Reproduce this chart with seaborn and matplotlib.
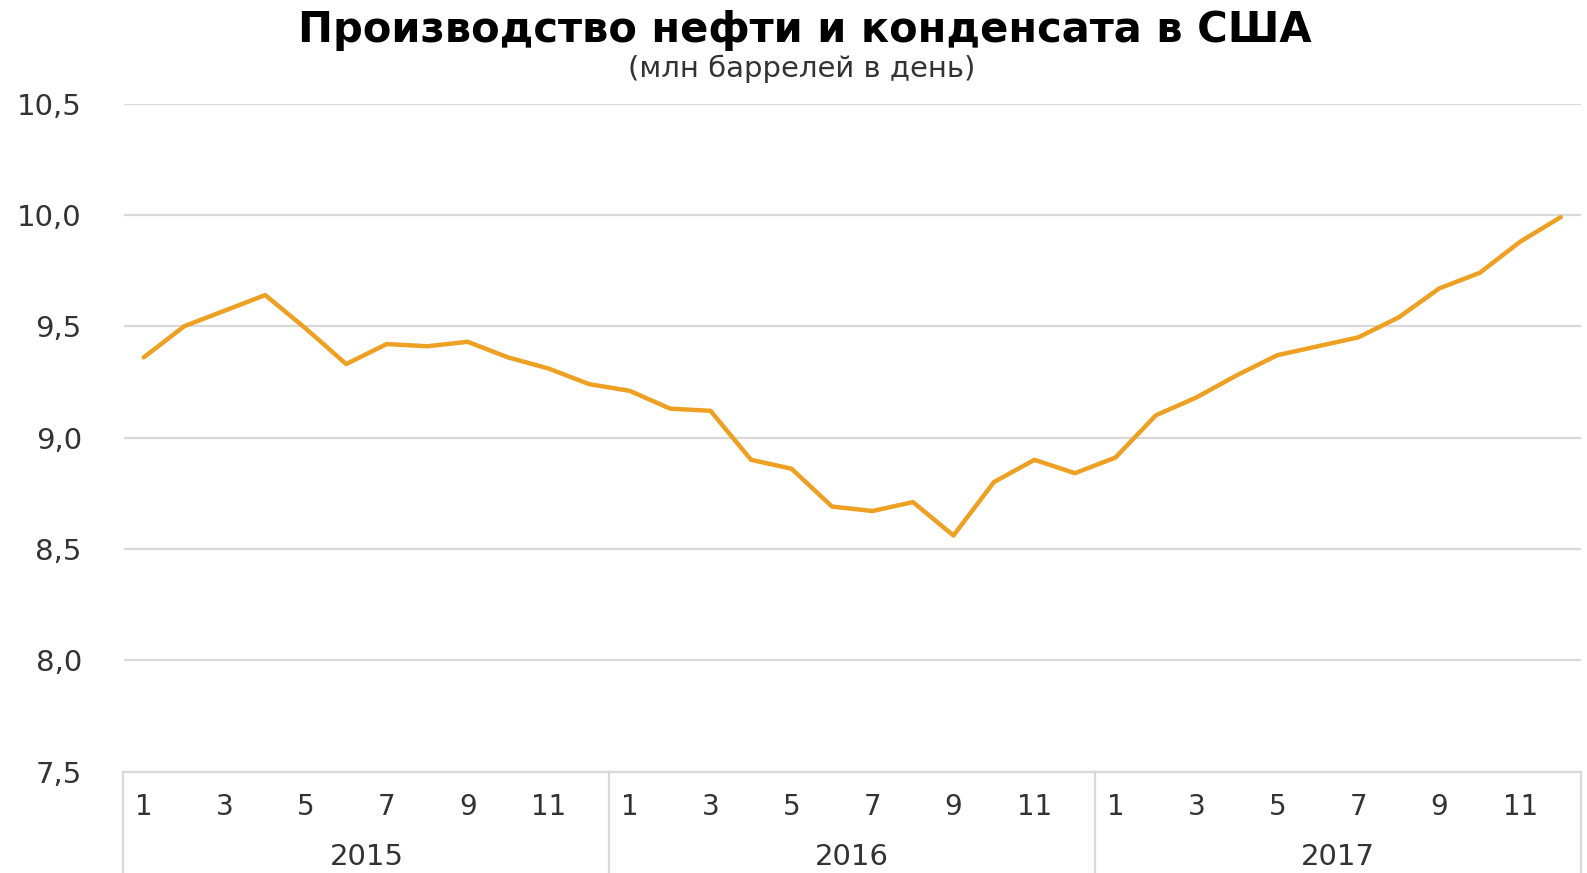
import numpy as np
import pandas as pd
import seaborn as sns
import matplotlib.pyplot as plt
import matplotlib.transforms as mtransforms

# data (mln barrels per day, monthly)
years = ['2015', '2016', '2017']
months = list(range(1, 13))
prod_2015 = [9.36, 9.50, 9.57, 9.64, 9.49, 9.33, 9.42, 9.41, 9.43, 9.36, 9.31, 9.24]
prod_2016 = [9.21, 9.13, 9.12, 8.90, 8.86, 8.69, 8.67, 8.71, 8.56, 8.80, 8.90, 8.84]
prod_2017 = [8.91, 9.10, 9.18, 9.28, 9.37, 9.41, 9.45, 9.54, 9.67, 9.74, 9.88, 9.99]
y_ticks = [7.5, 8.0, 8.5, 9.0, 9.5, 10.0, 10.5]

df = pd.DataFrame({
    'year': np.repeat(years, 12),
    'month': months * 3,
    'value': prod_2015 + prod_2016 + prod_2017,
})
df['pos'] = np.arange(len(df))

sns.set_style('white')
plt.rcParams['font.family'] = ['DejaVu Sans']

W, H = 1587, 873
fig = plt.figure(figsize=(W / 100, H / 100), dpi=100)
left, right, top, bottom = 123.5, 1581, 103.6, 771.5
ax = fig.add_axes([left / W, 1 - bottom / H, (right - left) / W, (bottom - top) / H])

sns.lineplot(data=df, x='pos', y='value', color='#EEA023', linewidth=3.2, ax=ax)

ax.set_xlim(-0.5, len(df) - 0.5)
ax.set_ylim(7.5, 10.5)
ax.set_yticks(y_ticks)
ax.set_yticklabels([f'{v:.1f}'.replace('.', ',') for v in y_ticks],
                   fontsize=21, color='#333333')
ax.tick_params(axis='y', length=0, pad=30)
ax.set_xticks([])
ax.set_xlabel('')
ax.set_ylabel('')
ax.grid(axis='y', color='#d9d9d9', linewidth=1.6)
ax.set_axisbelow(True)
for s in ['left', 'right', 'top']:
    ax.spines[s].set_visible(False)
ax.spines['bottom'].set_color('#d9d9d9')
ax.spines['bottom'].set_linewidth(1.6)

# two-level category axis: months and years
trans = mtransforms.blended_transform_factory(ax.transData, ax.transAxes)
for i, row in df.iterrows():
    if row['month'] % 2 == 1:
        ax.text(row['pos'], -0.053, str(row['month']), transform=trans,
                ha='center', va='center', fontsize=20, color='#333333')
for k, yr in enumerate(years):
    ax.text(k * 12 + 5.5, -0.128, yr, transform=trans, ha='center', va='center',
            fontsize=21, color='#333333')
for k in range(len(years) + 1):
    ax.plot([k * 12 - 0.5, k * 12 - 0.5], [0, -0.16], transform=trans,
            color='#d9d9d9', linewidth=1.6, clip_on=False)

fig.text(805 / W, 1 - 30 / H, 'Производство нефти и конденсата в США',
         ha='center', va='center', fontsize=30, fontweight='bold', color='black')
fig.text(802 / W, 1 - 69 / H, '(млн баррелей в день)',
         ha='center', va='center', fontsize=21, color='#333333')

fig.savefig('out.png', dpi=100)
